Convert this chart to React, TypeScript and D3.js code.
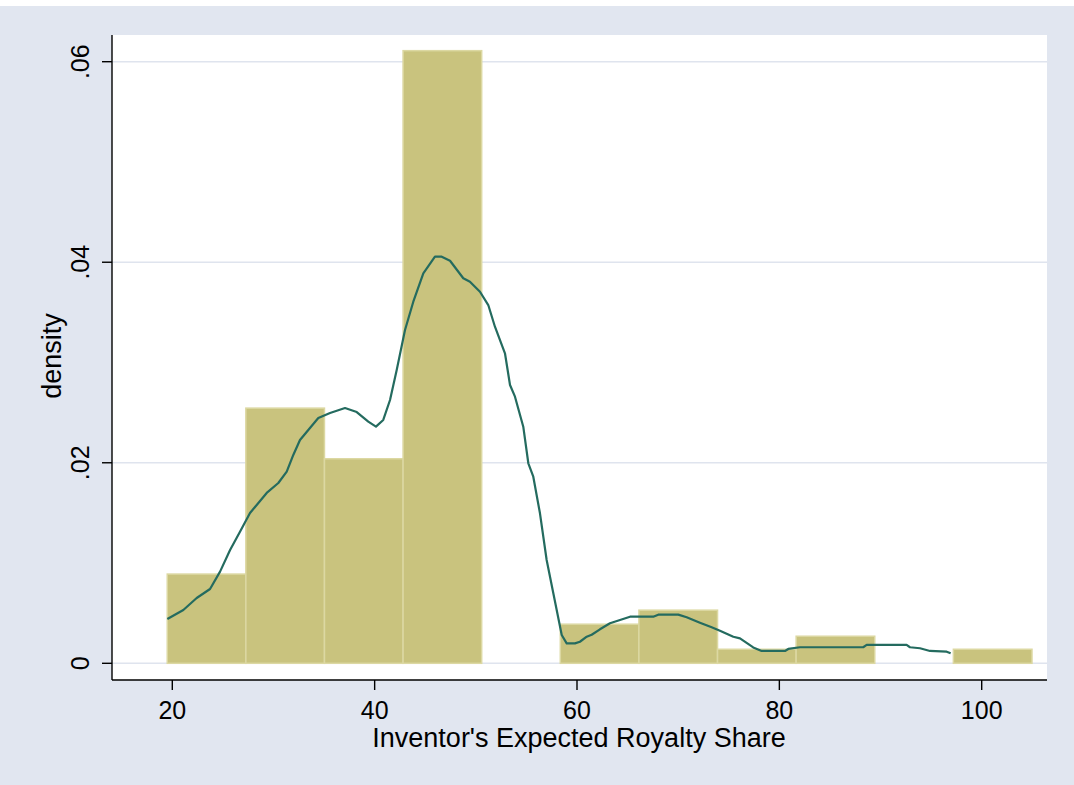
import React from 'react';
import * as d3 from 'd3';

// histogram bins (left edges) and densities
const binStart = [19.5, 27.27, 35.04, 42.81, 50.58, 58.35, 66.12, 73.89, 81.66, 89.43, 97.2];
const binWidth = 7.77;
const binDensity = [0.0089, 0.02545, 0.0204, 0.0611, 0, 0.0039, 0.0053, 0.0014, 0.0027, 0, 0.0014];

// kernel density curve
const kdeX = [19.51, 21.09, 22.41, 23.73, 24.72, 25.71, 26.69, 27.68, 29.33, 30.48, 31.31, 31.96, 32.62, 34.43,
  35.59, 37.07, 38.23, 39.37, 40.13, 40.85, 41.52, 42.18, 43.0, 43.82, 44.81, 45.96, 46.63, 47.45, 48.76, 49.42,
  50.41, 51.23, 51.89, 52.88, 53.38, 53.87, 54.69, 55.19, 55.68, 56.34, 57.0, 57.66, 58.49, 58.98, 59.8, 60.29,
  60.96, 61.45, 62.27, 63.26, 64.25, 65.24, 67.54, 68.03, 70.01, 70.84, 72.15, 73.31, 74.13, 75.45, 76.11, 77.42,
  78.25, 80.56, 80.88, 82.04, 88.29, 88.63, 92.58, 92.91, 93.9, 94.89, 96.54, 96.93];
const kdeY = [0.00442, 0.00532, 0.00651, 0.00741, 0.00914, 0.0113, 0.01313, 0.01499, 0.01699, 0.01798, 0.01911,
  0.02078, 0.02227, 0.02447, 0.02497, 0.02546, 0.02506, 0.0241, 0.0236, 0.02427, 0.02626, 0.02925, 0.03324, 0.03606,
  0.0389, 0.04055, 0.04055, 0.04015, 0.0384, 0.03806, 0.03706, 0.03573, 0.03357, 0.03092, 0.02776, 0.02659, 0.0236,
  0.01995, 0.01861, 0.01496, 0.0103, 0.00698, 0.00282, 0.00199, 0.00199, 0.00215, 0.00265, 0.00285, 0.00339,
  0.00399, 0.00432, 0.00465, 0.00465, 0.00485, 0.00485, 0.00459, 0.00405, 0.00359, 0.00325, 0.00265, 0.00249,
  0.00158, 0.00123, 0.00123, 0.00143, 0.0016, 0.0016, 0.00183, 0.00183, 0.0016, 0.0015, 0.00123, 0.00116, 0.001];

const xTicks = [20, 40, 60, 80, 100];
const yTicks = [0, 0.02, 0.04, 0.06];
const yTickLabels = ['0', '.02', '.04', '.06'];

const W = 1074, H = 785;
const plot = { left: 112, right: 1047, top: 35, bottom: 680 };
const font = '"Liberation Sans", Arial, sans-serif';

export default function App() {
  const x = d3.scaleLinear().domain([20, 100]).range([172.3, 981.7]);
  const y = d3.scaleLinear().domain([0, 0.06]).range([663.3, 61.7]);

  const pts: [number, number][] = kdeX.map((v, i) => [v, kdeY[i]]);
  const line = d3.line<[number, number]>()
    .x(d => x(d[0]))
    .y(d => y(d[1]));

  return (
    <svg width={W} height={H} style={{ position: 'absolute', left: 0, top: 0 }}>
      <rect x={0} y={6} width={W} height={H - 6} fill="#e1e6f0" />
      <rect x={plot.left} y={plot.top} width={plot.right - plot.left} height={plot.bottom - plot.top} fill="#fff" />

      {yTicks.map(t => (
        <line key={'g' + t} x1={plot.left} x2={plot.right} y1={y(t)} y2={y(t)} stroke="#dfe4ee" strokeWidth={1.5} />
      ))}

      {binStart.map((b, i) => binDensity[i] > 0 && (
        <rect key={'b' + i}
          x={x(b)} y={y(binDensity[i])}
          width={x(b + binWidth) - x(b)} height={y(0) - y(binDensity[i])}
          fill="#c9c37e" stroke="#dcd8a2" strokeWidth={1.5} />
      ))}

      <path d={line(pts) || ''} fill="none" stroke="#246b5f" strokeWidth={2.2} strokeLinejoin="round" />

      {/* axes */}
      <line x1={plot.left} x2={plot.left} y1={plot.top} y2={plot.bottom} stroke="#000" strokeWidth={1.4} />
      <line x1={plot.left} x2={plot.right} y1={plot.bottom} y2={plot.bottom} stroke="#000" strokeWidth={1.4} />

      {yTicks.map((t, i) => (
        <g key={'yt' + t}>
          <line x1={plot.left - 10} x2={plot.left} y1={y(t)} y2={y(t)} stroke="#000" strokeWidth={1.4} />
          <text transform={`translate(89,${y(t)}) rotate(-90)`} textAnchor="middle"
            fontFamily={font} fontSize={25} fill="#000">{yTickLabels[i]}</text>
        </g>
      ))}

      {xTicks.map(t => (
        <g key={'xt' + t}>
          <line x1={x(t)} x2={x(t)} y1={plot.bottom} y2={plot.bottom + 10} stroke="#000" strokeWidth={1.4} />
          <text x={x(t)} y={719} textAnchor="middle" fontFamily={font} fontSize={25} fill="#000">{t}</text>
        </g>
      ))}

      <text x={579} y={747} textAnchor="middle" fontFamily={font} fontSize={27} fill="#000">
        Inventor's Expected Royalty Share
      </text>
      <text transform="translate(61,356) rotate(-90)" textAnchor="middle" fontFamily={font} fontSize={27} fill="#000">
        density
      </text>
    </svg>
  );
}
